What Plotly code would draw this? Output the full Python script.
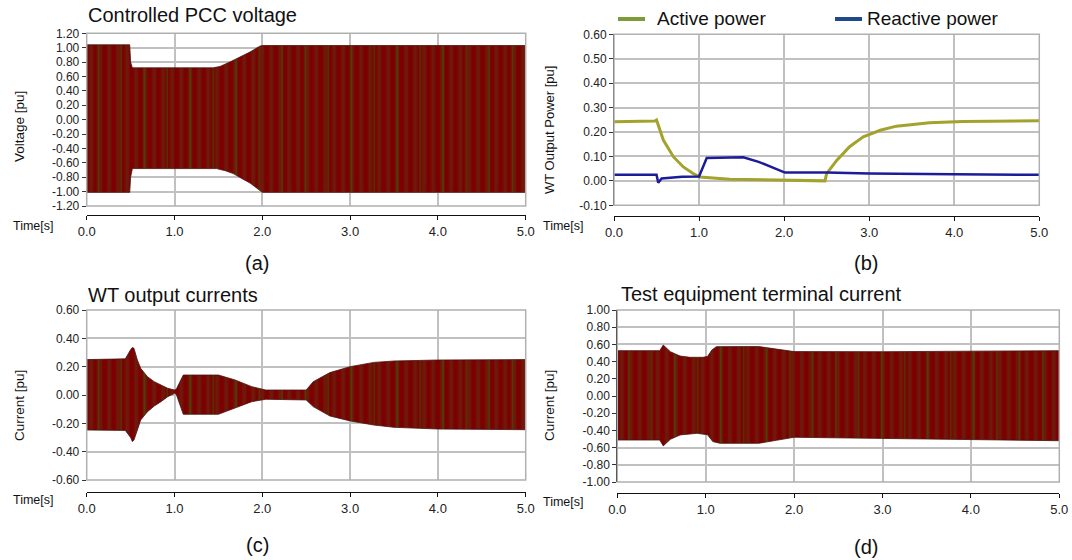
import plotly.graph_objects as go

# ---------------- data ----------------
time_ticks = ["0.0", "1.0", "2.0", "3.0", "4.0", "5.0"]

# (a) Controlled PCC voltage envelope [pu]
va_t_up = [0, 0.49, 0.50, 0.52, 1.44, 1.52, 1.63, 1.75, 1.86, 1.97, 2.0, 5.0]
va_up = [1.04, 1.04, 0.80, 0.72, 0.72, 0.74, 0.80, 0.87, 0.94, 1.02, 1.03, 1.03]
va_t_lo = [0, 0.49, 0.50, 0.52, 1.48, 1.58, 1.67, 1.77, 1.86, 1.97, 2.0, 5.0]
va_lo = [-1.01, -1.01, -0.80, -0.68, -0.68, -0.71, -0.75, -0.82, -0.88, -0.98, -1.01, -1.01]
volt_ticks = ["-1.20", "-1.00", "-0.80", "-0.60", "-0.40", "-0.20", "0.00",
              "0.20", "0.40", "0.60", "0.80", "1.00", "1.20"]

# (b) WT output power [pu]
p_t = [0, 0.48, 0.50, 0.58, 0.70, 0.815, 0.93, 1.01, 1.36, 1.99, 2.48, 2.50,
       2.62, 2.77, 2.93, 3.13, 3.32, 3.71, 4.10, 5.0]
p_active = [0.242, 0.245, 0.249, 0.167, 0.098, 0.057, 0.030, 0.016, 0.007, 0.002,
            0.000, 0.030, 0.085, 0.140, 0.180, 0.207, 0.224, 0.238, 0.243, 0.246]
q_t = [0, 0.50, 0.52, 0.56, 0.80, 1.00, 1.09, 1.52, 1.70, 1.85, 1.95, 2.01,
       2.50, 3.00, 4.00, 5.0]
q_reactive = [0.025, 0.025, -0.008, 0.010, 0.017, 0.018, 0.094, 0.097, 0.078,
              0.057, 0.041, 0.034, 0.034, 0.030, 0.027, 0.025]
power_ticks = ["-0.10", "0.00", "0.10", "0.20", "0.30", "0.40", "0.50", "0.60"]

# (c) WT output currents envelope [pu]
ic_t_up = [0, 0.44, 0.50, 0.52, 0.538, 0.577, 0.615, 0.692, 0.769, 0.846, 0.923,
           1.0, 1.02, 1.10, 1.50, 1.69, 1.88, 2.04, 2.50, 2.58, 2.77, 3.0, 3.27,
           3.5, 4.0, 5.0]
ic_up = [0.250, 0.255, 0.320, 0.335, 0.330, 0.247, 0.188, 0.129, 0.094, 0.071,
         0.047, 0.035, 0.040, 0.141, 0.141, 0.106, 0.059, 0.035, 0.035, 0.094,
         0.158, 0.200, 0.230, 0.240, 0.247, 0.250]
ic_t_lo = [0, 0.44, 0.50, 0.52, 0.538, 0.577, 0.615, 0.692, 0.769, 0.846, 0.923,
           1.0, 1.02, 1.10, 1.50, 1.69, 1.88, 2.04, 2.50, 2.58, 2.77, 3.0, 3.27,
           3.5, 4.0, 5.0]
ic_lo = [-0.247, -0.250, -0.300, -0.329, -0.318, -0.247, -0.176, -0.118, -0.078,
         -0.047, -0.012, 0.012, 0.005, -0.136, -0.136, -0.094, -0.047, -0.030,
         -0.035, -0.082, -0.148, -0.183, -0.212, -0.228, -0.240, -0.245]
curr_ticks = ["-0.60", "-0.40", "-0.20", "0.00", "0.20", "0.40", "0.60"]

# (d) Test equipment terminal current envelope [pu]
id_t_up = [0, 0.48, 0.52, 0.60, 0.71, 0.82, 0.97, 1.02, 1.07, 1.12, 1.60, 1.80,
           2.0, 3.0, 5.0]
id_up = [0.527, 0.527, 0.593, 0.515, 0.465, 0.450, 0.450, 0.460, 0.535, 0.574,
         0.575, 0.545, 0.516, 0.515, 0.527]
id_t_lo = [0, 0.48, 0.52, 0.60, 0.71, 0.90, 0.97, 1.02, 1.08, 1.16, 1.60, 1.80,
           2.0, 3.0, 5.0]
id_lo = [-0.512, -0.512, -0.580, -0.504, -0.453, -0.434, -0.440, -0.450, -0.530,
         -0.550, -0.550, -0.515, -0.480, -0.490, -0.520]
term_ticks = ["-1.00", "-0.80", "-0.60", "-0.40", "-0.20", "0.00", "0.20",
              "0.40", "0.60", "0.80", "1.00"]

# ---------------- layout helpers ----------------
W, H = 1072, 560
FONT = "Liberation Sans, Arial, Helvetica, sans-serif"
GRID = "#c0c0c0"


def fx(x):
    return x / W


def fy(y):
    return 1 - y / H


panels = [
    dict(k="", x0=86.7, x1=525.7, y0=33.3, y1=206.0, xl=215, ticks=volt_ticks),
    dict(k="2", x0=614.0, x1=1039.3, y0=34.3, y1=205.3, xl=216, ticks=power_ticks),
    dict(k="3", x0=86.7, x1=525.7, y0=310.0, y1=480.0, xl=492, ticks=curr_ticks),
    dict(k="4", x0=617.3, x1=1059.3, y0=310.0, y1=482.0, xl=493, ticks=term_ticks),
]

fig = go.Figure()
layout = dict(width=W, height=H, margin=dict(l=0, r=0, t=0, b=0, pad=0),
              autosize=False,
              paper_bgcolor="white", plot_bgcolor="white", showlegend=False,
              font=dict(family=FONT, color="#222"))
shapes = []
annotations = []

for p in panels:
    k = p["k"]
    vals = [float(s) for s in p["ticks"]]
    layout["xaxis" + k] = dict(
        domain=[fx(p["x0"]), fx(p["x1"])], anchor="free", position=fy(p["xl"]),
        range=[0, 5], tickvals=[0, 1, 2, 3, 4, 5], ticktext=time_ticks,
        showgrid=True, gridcolor=GRID, gridwidth=1.5, zeroline=False,
        showline=True, linecolor="#111", linewidth=1, ticks="outside",
        ticklen=4, tickcolor="#111", tickfont=dict(size=13, family=FONT, color="#222"),
        automargin=False, fixedrange=True)
    layout["yaxis" + k] = dict(
        domain=[fy(p["y1"]), fy(p["y0"])], anchor="x" + k,
        range=[vals[0], vals[-1]], tickvals=vals, ticktext=p["ticks"],
        showgrid=True, gridcolor=GRID, gridwidth=1.5, zeroline=False,
        showline=True, linecolor="#111", linewidth=1, ticks="outside",
        ticklen=4, tickcolor="#333", tickfont=dict(size=12, family=FONT, color="#222"),
        automargin=False, fixedrange=True)
    shapes.append(dict(type="rect", xref="x%s domain" % k, yref="y%s domain" % k,
                       x0=0, x1=1, y0=0, y1=1, line=dict(color="#b0b0b0", width=1.5),
                       layer="above"))


def band(t_up, up, t_lo, lo, k):
    xs = list(t_up) + list(t_lo)[::-1]
    ys = list(up) + list(lo)[::-1]
    fig.add_trace(go.Scatter(
        x=xs, y=ys, mode="lines", fill="toself",
        line=dict(color="#4a1010", width=0.8),
        fillcolor="#7d0000",
        fillpattern=dict(shape="|", fgcolor="#5e3216", bgcolor="#7d0000",
                         size=9, solidity=0.45),
        xaxis="x" + k, yaxis="y" + k, hoverinfo="skip"))
    # sparse green phase-trace highlights
    fig.add_trace(go.Scatter(
        x=xs, y=ys, mode="lines", fill="toself",
        line=dict(color="rgba(0,0,0,0)", width=0),
        fillcolor="rgba(0,0,0,0)",
        fillpattern=dict(shape="|", fgcolor="rgba(0,165,0,0.75)",
                         bgcolor="rgba(0,0,0,0)", size=23, solidity=0.06),
        xaxis="x" + k, yaxis="y" + k, hoverinfo="skip"))


band(va_t_up, va_up, va_t_lo, va_lo, "")
band(ic_t_up, ic_up, ic_t_lo, ic_lo, "3")
band(id_t_up, id_up, id_t_lo, id_lo, "4")

fig.add_trace(go.Scatter(x=p_t, y=p_active, mode="lines", name="Active power",
                         line=dict(color="#a3a22c", width=3),
                         xaxis="x2", yaxis="y2"))
fig.add_trace(go.Scatter(x=q_t, y=q_reactive, mode="lines", name="Reactive power",
                         line=dict(color="#1c1c9a", width=2.5),
                         xaxis="x2", yaxis="y2"))


def text(x, y, s, size, xanchor="left", angle=0):
    annotations.append(dict(x=fx(x), y=fy(y), xref="paper", yref="paper", text=s,
                            showarrow=False, xanchor=xanchor, yanchor="middle",
                            textangle=angle,
                            font=dict(size=size, family=FONT, color="#111")))


# titles
text(86, 15, "Controlled PCC voltage", 20)
text(86, 295, "WT output currents", 20)
text(619, 294, "Test equipment terminal current", 20)

# y axis titles
text(20, 127, "Voltage [pu]", 13.5, "center", -90)
text(549, 130, "WT Output Power [pu]", 13, "center", -90)
text(19, 406, "Current [pu]", 13.5, "center", -90)
text(549, 406, "Current [pu]", 13.5, "center", -90)

# time labels
text(33, 226, "Time[s]", 12.5, "center")
text(563, 226, "Time[s]", 12.5, "center")
text(33, 500, "Time[s]", 12.5, "center")
text(563, 502, "Time[s]", 12.5, "center")

# captions
text(257, 263, "(a)", 20, "center")
text(866, 263, "(b)", 20, "center")
text(257, 545, "(c)", 20, "center")
text(866, 547, "(d)", 20, "center")

# legend for (b)
shapes.append(dict(type="line", xref="paper", yref="paper", x0=fx(618), x1=fx(645),
                   y0=fy(19), y1=fy(19), line=dict(color="#7e9b3a", width=4)))
shapes.append(dict(type="line", xref="paper", yref="paper", x0=fx(835), x1=fx(862),
                   y0=fy(19), y1=fy(19), line=dict(color="#1f4a8a", width=4)))
text(655, 19, "Active power", 19)
text(865, 19, "Reactive power", 19)

layout["shapes"] = shapes
layout["annotations"] = annotations
fig.update_layout(**layout)
fig.write_html("out.html", config={"displayModeBar": False},
               post_script="document.body.style.margin='0';"
                           "document.body.style.overflow='hidden';")
